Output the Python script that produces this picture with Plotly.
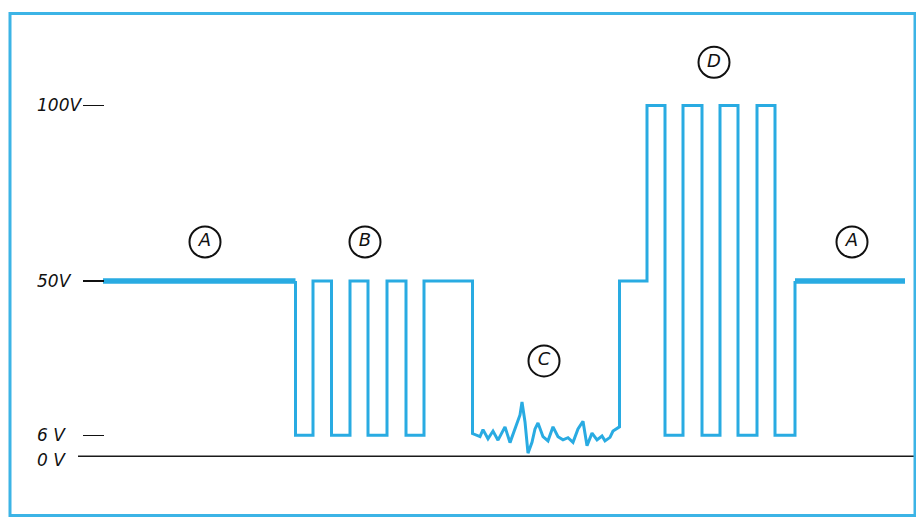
import plotly.graph_objects as go

# ---------------- data (time in arbitrary units, level in volts) ----------------
a1_t = [0.0, 19.25]
a1_v = [50, 50]

b_edge_t = [19.25, 21.0, 22.85, 24.7, 26.5, 28.4, 30.3, 32.1]
b_level = [6, 50, 6, 50, 6, 50, 6, 50]

noise_t = [36.95, 37.7, 38.0, 38.5, 39.0, 39.5, 39.9, 40.2, 40.7, 41.2, 41.7, 41.9,
           42.2, 42.5, 42.9, 43.2, 43.5, 44.0, 44.5, 45.0, 45.5, 46.0, 46.5, 47.0,
           47.5, 48.0, 48.4, 48.9, 49.4, 49.9, 50.2, 50.7, 51.0, 51.65]
noise_v = [6.5, 5.6, 7.6, 5.0, 7.2, 4.6, 6.6, 8.4, 3.9, 7.8, 11.8, 15.5,
           9.8, 0.9, 4.0, 7.8, 9.5, 5.6, 4.4, 8.4, 5.6, 4.7, 5.3, 4.0,
           7.8, 10.0, 3.0, 6.6, 4.7, 5.8, 4.4, 5.4, 7.2, 8.4]

d_edge_t = [54.4, 56.2, 58.0, 59.9, 61.7, 63.5, 65.4, 67.2, 69.2]
d_level = [100, 6, 100, 6, 100, 6, 100, 6, 50]

a2_t = [69.2, 80.2]
a2_v = [50, 50]

tick_vals = [0, 6, 50, 100]
tick_text = ["0 V", "6 V", "50V", "100V"]

seg_letters = ["A", "B", "C", "D", "A"]
seg_label_t = [10.2, 26.2, 44.1, 61.1, 74.9]
seg_label_v = [61.1, 61.1, 27.2, 112.3, 61.1]

# ---------------- build the stepped waveform path ----------------
xs = [b_edge_t[0]]
ys = [a1_v[-1]]
cur = a1_v[-1]
for t, lv in zip(b_edge_t, b_level):
    xs += [t, t]
    ys += [cur, lv]
    cur = lv
xs += [noise_t[0]]
ys += [cur]
xs += noise_t
ys += noise_v
xs += [noise_t[-1]]
ys += [50]
cur = 50
for t, lv in zip(d_edge_t, d_level):
    xs += [t, t]
    ys += [cur, lv]
    cur = lv

BLUE = "#29abe2"
FONT = "DejaVu Sans"

fig = go.Figure()
fig.add_trace(go.Scatter(x=xs, y=ys, mode="lines",
                         line=dict(color=BLUE, width=3), hoverinfo="skip"))
fig.add_trace(go.Scatter(x=a1_t, y=a1_v, mode="lines",
                         line=dict(color=BLUE, width=5.5), hoverinfo="skip"))
fig.add_trace(go.Scatter(x=a2_t, y=a2_v, mode="lines",
                         line=dict(color=BLUE, width=5.5), hoverinfo="skip"))
fig.add_trace(go.Scatter(
    x=seg_label_t, y=seg_label_v, mode="markers+text", text=seg_letters,
    textposition="middle center",
    textfont=dict(family=FONT, size=18, color="#111111", style="italic"),
    marker=dict(symbol="circle", size=31, color="rgba(0,0,0,0)",
                line=dict(color="#111111", width=2)),
    hoverinfo="skip"))

W, H = 916, 517
annotations = []
for v, txt in zip(tick_vals, tick_text):
    annotations.append(dict(
        x=35 / W, xref="paper", y=v, yref="y", text=txt, showarrow=False,
        xanchor="left", yanchor="middle", yshift=(-4 if v == 0 else 0),
        font=dict(family=FONT, size=17, color="#111111", style="italic")))

shapes = [
    dict(type="line", xref="paper", yref="y", x0=78 / W, x1=1.0, y0=0, y1=0,
         line=dict(color="#1a1a1a", width=1.6)),
    dict(type="rect", xref="paper", yref="paper",
         x0=10 / W, x1=915 / W, y0=1 - 515.5 / H, y1=1 - 13.5 / H,
         line=dict(color="#3cb4e6", width=3), fillcolor="rgba(0,0,0,0)"),
]

fig.update_layout(
    width=W, height=H,
    margin=dict(l=0, r=0, t=0, b=0, pad=0),
    paper_bgcolor="white", plot_bgcolor="white",
    showlegend=False,
    xaxis=dict(range=[-10.3, 81.3], visible=False, fixedrange=True),
    yaxis=dict(range=[-17.30, 130.07], anchor="free", position=104 / W,
               side="left", ticks="outside", ticklen=21, tickwidth=1.5,
               tickcolor="#111111", tickvals=[6, 50, 100],
               showticklabels=False, showline=False, showgrid=False,
               zeroline=False, fixedrange=True),
    annotations=annotations,
    shapes=shapes,
)

fig.write_html("out.html",
               config=dict(displayModeBar=False, staticPlot=True),
               post_script="document.body.style.margin='0';document.body.style.overflow='hidden';")
